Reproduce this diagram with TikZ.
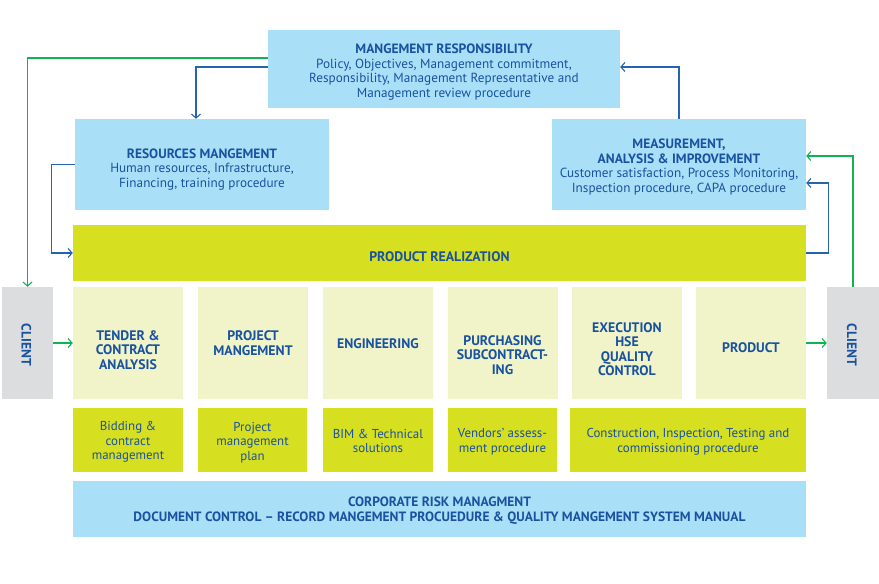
\documentclass[tikz,border=0pt]{standalone}
\usepackage{fontspec}
\setmainfont{PT Sans}
\usetikzlibrary{arrows.meta}
\definecolor{skyfill}{RGB}{170,223,248}
\definecolor{limefill}{RGB}{215,223,33}
\definecolor{palefill}{RGB}{241,244,201}
\definecolor{greyfill}{RGB}{220,221,223}
\definecolor{inkblue}{RGB}{24,82,160}
\definecolor{linkblue}{RGB}{38,100,175}
\definecolor{linkgreen}{RGB}{16,178,84}
\newcommand\headfont{\fontsize{13.5}{14.5}\selectfont\bfseries}
\tikzset{
  box/.style={inner sep=0pt},
  skybox/.style={box, fill=skyfill},
  limebox/.style={box, fill=limefill},
  palebox/.style={box, fill=palefill, minimum width=110pt, minimum height=112pt},
  clientbox/.style={box, fill=greyfill, minimum height=112pt},
  txt/.style={inner sep=0pt, align=center, text=inkblue, font=\fontsize{13.2}{14.5}\selectfont},
  steptxt/.style={txt, font=\fontsize{13.8}{14.5}\selectfont\bfseries},
  proctxt/.style={txt, font=\fontsize{12.9}{14.7}\selectfont},
  link/.style={line width=1.1pt, -{Straight Barb[length=4pt,width=9pt]}},
  bluelink/.style={link, draw=linkblue},
  greenlink/.style={link, draw=linkgreen},
}
\begin{document}
\begin{tikzpicture}[x=1pt,y=-1pt]
\useasboundingbox (0,0) rectangle (879,584);

% management level
\node[skybox, minimum width=352pt, minimum height=78pt] (mr) at (444,69) {};
\node[txt] (mrtxt) at ([yshift=-3pt]mr.center)
  {{\headfont MANGEMENT RESPONSIBILITY}\\Policy, Objectives, Management commitment,\\Responsibility, Management Representative and\\Management review procedure};
\node[skybox, minimum width=254pt, minimum height=91pt] (rm) at (202,164.5) {};
\node[txt] (rmtxt) at ([yshift=-5pt]rm.center)
  {{\headfont RESOURCES MANGEMENT}\\Human resources, Infrastructure,\\Financing, training procedure};
\node[skybox, minimum width=254pt, minimum height=91pt] (ma) at (679,164.5) {};
\node[txt] (matxt) at ([yshift=-2.5pt]ma.center)
  {{\headfont MEASUREMENT,}\\{\headfont ANALYSIS \& IMPROVEMENT}\\Customer satisfaction, Process Monitoring,\\Inspection procedure, CAPA procedure};

% realization band
\node[limebox, minimum width=733pt, minimum height=56pt] (pr) at (439.5,253) {};
\node[steptxt] (prtxt) at ([yshift=-3.5pt]pr.center) {PRODUCT REALIZATION};

% process steps
\node[palebox] (t1) at (128,343) {};
\node[steptxt] (t1txt) at ([yshift=-7pt]t1.center) {TENDER \&\\CONTRACT\\ANALYSIS};
\node[palebox] (t2) at (253,343) {};
\node[steptxt] (t2txt) at (t2.center) {PROJECT\\MANGEMENT};
\node[palebox] (t3) at (378,343) {};
\node[steptxt] (t3txt) at ([yshift=-1pt]t3.center) {ENGINEERING};
\node[palebox] (t4) at (502.5,343) {};
\node[steptxt] (t4txt) at ([yshift=-12pt]t4.center) {PURCHASING\\SUBCONTRACT-\\ING};
\node[palebox] (t5) at (627,343) {};
\node[steptxt] (t5txt) at ([yshift=-6pt]t5.center) {EXECUTION\\HSE\\QUALITY\\CONTROL};
\node[palebox] (t6) at (751,343) {};
\node[steptxt] (t6txt) at ([yshift=-5pt]t6.center) {PRODUCT};

% clients
\node[clientbox, minimum width=51pt] (cl) at (27.5,343) {};
\node[steptxt, font=\fontsize{13.6}{14.5}\selectfont\bfseries, rotate=-90] (cltxt) at ([xshift=-1pt,yshift=-2pt]cl.center) {CLIENT};
\node[clientbox, minimum width=52pt] (cr) at (853,343) {};
\node[steptxt, font=\fontsize{13.6}{14.5}\selectfont\bfseries, rotate=-90] (crtxt) at ([xshift=-1pt,yshift=-2pt]cr.center) {CLIENT};

% procedures
\node[limebox, minimum width=110pt, minimum height=64pt] (p1) at (128,440) {};
\node[proctxt] (p1txt) at ([yshift=-2pt]p1.center) {Bidding \&\\contract\\management};
\node[limebox, minimum width=109pt, minimum height=64pt] (p2) at (252.5,440) {};
\node[proctxt] (p2txt) at ([yshift=-2.7pt]p2.center) {Project\\management\\plan};
\node[limebox, minimum width=110pt, minimum height=64pt] (p3) at (378,440) {};
\node[proctxt] (p3txt) at ([yshift=-1pt]p3.center) {BIM \& Technical\\solutions};
\node[limebox, minimum width=109pt, minimum height=64pt] (p4) at (502.5,440) {};
\node[proctxt] (p4txt) at ([yshift=-2pt]p4.center) {Vendors' assess-\\ment procedure};
\node[limebox, minimum width=236pt, minimum height=64pt] (p5) at (688,440) {};
\node[proctxt] (p5txt) at ([yshift=-2pt]p5.center) {Construction, Inspection, Testing and\\commissioning procedure};

% corporate base
\node[skybox, minimum width=733pt, minimum height=56pt] (cb) at (439.5,509) {};
\node[txt, font=\fontsize{13.5}{15}\selectfont\bfseries] (cbtxt) at ([yshift=-2pt]cb.center)
  {CORPORATE RISK MANAGMENT\\DOCUMENT CONTROL -- RECORD MANGEMENT PROCUEDURE \& QUALITY MANGEMENT SYSTEM MANUAL};

% connectors
\draw[greenlink] ([yshift=11pt]mr.west) -| (cl.north);
\draw[bluelink] ([yshift=2pt]mr.west) -| ([xshift=-6pt]rm.north);
\draw[bluelink] (rm.west) -- ++(-23,0) |- (pr.west);
\draw[greenlink] (cl.east) -- (t1.west);
\draw[greenlink] (t6.east) -- (cr.west);
\draw[bluelink] (pr.east) -- ++(22,0) |- ([yshift=-18.5pt]ma.east);
\draw[greenlink] (cr.north) |- ([yshift=8.5pt]ma.east);
\draw[bluelink] (ma.north) |- ([yshift=2pt]mr.east);
\end{tikzpicture}
\end{document}
